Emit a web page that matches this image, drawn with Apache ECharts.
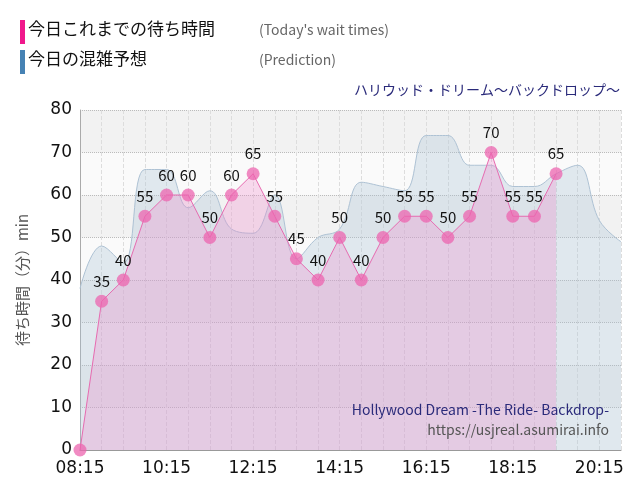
<!DOCTYPE html><html><head><meta charset="utf-8"><script src="https://cdn.jsdelivr.net/npm/echarts@6/dist/echarts.min.js"></script>
<style>body{margin:0}#c{width:640px;height:500px}</style></head><body><div id="c"></div><script>
const times=['08:15','08:45','09:15','09:45','10:15','10:45','11:15','11:45','12:15','12:45','13:15','13:45','14:15','14:45','15:15','15:45','16:15','16:45','17:15','17:45','18:15','18:45','19:15','19:45','20:15','20:45'];
const actual=[0,35,40,55,60,60,50,60,65,55,45,40,50,40,50,55,55,50,55,70,55,55,65];
const prediction=[38,48,44,66,66,57,61,52,51,60,45,50,52,63,62,61,74,74,67,67,62,62,65,67,54,49];
const yTicks=[0,10,20,30,40,50,60,70,80];
const F='"Noto Sans CJK JP","Noto Sans",sans-serif';
const T='"DejaVu Sans",sans-serif';
const c=echarts.init(document.getElementById('c'));
c.setOption({animation:false,
graphic:[
{type:'rect',shape:{x:20,y:20,width:5,height:24},style:{fill:'#f0188c'}},
{type:'rect',shape:{x:20,y:50,width:5,height:24},style:{fill:'#4682b4'}},
{type:'text',x:28,y:20,style:{text:'今日これまでの待ち時間',font:'17px '+F,fill:'#111'}},
{type:'text',x:28,y:50,style:{text:'今日の混雑予想',font:'17px '+F,fill:'#111'}},
{type:'text',x:259,y:23,style:{text:"(Today's wait times)",font:'14px '+F,fill:'#666'}},
{type:'text',x:259,y:53,style:{text:'(Prediction)',font:'14px '+F,fill:'#666'}},
{type:'text',x:620,y:83,style:{text:'ハリウッド・ドリーム～バックドロップ～',font:'14px '+F,fill:'#2a2a7a',textAlign:'right'}},
{type:'text',x:609,y:403,z:100,style:{text:'Hollywood Dream -The Ride- Backdrop-',font:'14px '+F,fill:'#2a2a7a',textAlign:'right'}},
{type:'text',x:609,y:423,z:100,style:{text:'https://usjreal.asumirai.info',font:'14px '+F,fill:'#555',textAlign:'right'}}
],
grid:{left:80,right:19,top:110,bottom:50},
xAxis:{type:'category',data:times,boundaryGap:false,
 axisLine:{lineStyle:{color:'#999'}},axisTick:{show:false},
 axisLabel:{interval:3,color:'#111',fontSize:17,fontFamily:T,margin:10},
 splitLine:{show:true,interval:0,lineStyle:{type:'dashed',color:'#ddd'}}},
yAxis:{type:'value',min:0,max:80,interval:10,name:'待ち時間（分）min',nameLocation:'middle',nameGap:50,
 nameTextStyle:{fontSize:15,color:'#555',fontFamily:F},
 axisLine:{show:true,lineStyle:{color:'#aaa'}},
 axisLabel:{color:'#111',fontSize:17,fontFamily:T,formatter:v=>yTicks.includes(v)?String(v):''},
 splitLine:{lineStyle:{type:'dotted',color:'#bbb'}},
 splitArea:{show:true,areaStyle:{color:['#fafafa','#f2f2f2']}}},
series:[
{type:'line',data:prediction,smooth:0.4,symbol:'none',lineStyle:{color:'#aec2d4',width:1},areaStyle:{color:'rgba(170,195,215,0.45)'},z:1},
{type:'line',data:actual,symbol:'circle',symbolSize:13,lineStyle:{color:'#e66bb0',width:1},
 itemStyle:{color:'rgba(236,100,175,0.75)'},areaStyle:{color:'rgba(240,130,200,0.4)'},
 label:{show:true,position:'top',fontSize:15,color:'#111',fontFamily:F,distance:6,formatter:p=>p.value>0?p.value:''},z:2}
]});
</script></body></html>
